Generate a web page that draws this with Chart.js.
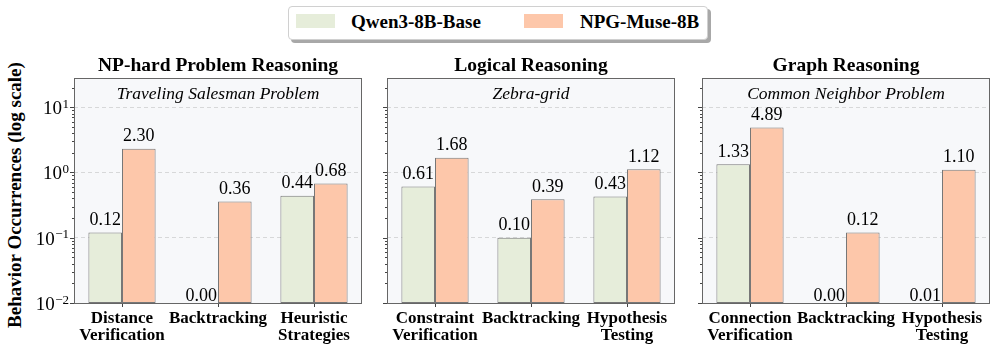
<!DOCTYPE html>
<html>
<head>
<meta charset="utf-8">
<script src="https://cdn.jsdelivr.net/npm/chart.js@4.4.0/dist/chart.umd.min.js"></script>
<style>
  body { margin: 0; width: 996px; height: 350px; background: #fff; position: relative; overflow: hidden;
         font-family: "Liberation Serif", "Times New Roman", serif; }
  canvas { position: absolute; left: 0; top: 0; }
  #legend { position: absolute; left: 288px; top: 6px; width: 418px; height: 32px; border: 1px solid #d0d0d0;
            border-radius: 4px; background: #fff; box-shadow: 3px 3px 0 #a8a8a8; }
  .sw { position: absolute; top: 7px; width: 39px; height: 14px; }
  .lt { position: absolute; top: 4px; font-weight: bold; font-size: 19px; line-height: 22px; color: #000; white-space: nowrap; }
  #ytitle { position: absolute; left: 15px; top: 195px; transform: translate(-50%, -50%) rotate(-90deg);
            font-weight: bold; font-size: 19px; white-space: nowrap; color: #000; }
</style>
</head>
<body>
<div id="legend"></div>
<div id="ytitle">Behavior Occurrences (log scale)</div>
<canvas id="p0" width="996" height="350"></canvas>
<canvas id="p1" width="996" height="350"></canvas>
<canvas id="p2" width="996" height="350"></canvas>
<script>
// series + panel data
const seriesNames = ['Qwen3-8B-Base', 'NPG-Muse-8B'];
const seriesColors = ['#e6edda', '#fdc7aa'];

const panelTitles = ['NP-hard Problem Reasoning', 'Logical Reasoning', 'Graph Reasoning'];
const panelSubtitles = ['Traveling Salesman Problem', 'Zebra-grid', 'Common Neighbor Problem'];

const npCategories = [['Distance', 'Verification'], 'Backtracking', ['Heuristic', 'Strategies']];
const npQwen = [0.12, 0.00, 0.44];
const npMuse = [2.30, 0.36, 0.68];

const logicCategories = [['Constraint', 'Verification'], 'Backtracking', ['Hypothesis', 'Testing']];
const logicQwen = [0.61, 0.10, 0.43];
const logicMuse = [1.68, 0.39, 1.12];

const graphCategories = [['Connection', 'Verification'], 'Backtracking', ['Hypothesis', 'Testing']];
const graphQwen = [1.33, 0.00, 0.01];
const graphMuse = [4.89, 0.12, 1.10];

const yMin = 0.01;
const yMax = 28;
const majorTicks = [0.01, 0.1, 1, 10];
const majorTickExp = ['\u22122', '\u22121', '0', '1'];

// panel boxes (plot area, px)
const panelLefts = [74, 387, 702];
const panelWidth = 288;
const plotTop = 78;
const plotBottom = 303;

const serif = '"Liberation Serif", "Times New Roman", serif';

// minor + major log ticks
const logTicks = [];
for (let e = -2; e <= 1; e++) {
  for (let m = 1; m <= 9; m++) {
    const v = Number((m * Math.pow(10, e)).toPrecision(3));
    if (v <= yMax) logTicks.push(v);
  }
}
const isMajor = v => majorTicks.some(t => Math.abs(t - v) < 1e-9);

// legend
const legend = document.getElementById('legend');
const swLeft = [7, 235];
const txtLeft = [62, 291];
seriesNames.forEach((name, i) => {
  const sw = document.createElement('span');
  sw.className = 'sw';
  sw.style.left = swLeft[i] + 'px';
  sw.style.background = seriesColors[i];
  legend.appendChild(sw);
  const t = document.createElement('span');
  t.className = 'lt';
  t.style.left = txtLeft[i] + 'px';
  t.textContent = name;
  legend.appendChild(t);
});

const panelDecor = {
  id: 'panelDecor',
  beforeDraw(chart) {
    const { ctx, chartArea: a } = chart;
    ctx.save();
    ctx.fillStyle = '#f7f8fa';
    ctx.fillRect(a.left, a.top, a.right - a.left, a.bottom - a.top);
    ctx.restore();
  },
  afterDatasetsDraw(chart, args, opts) {
    const { ctx, chartArea: a } = chart;
    const yScale = chart.scales.y;
    ctx.save();

    // frame
    ctx.strokeStyle = '#666';
    ctx.lineWidth = 1;
    ctx.strokeRect(a.left + 0.5, a.top + 0.5, a.right - a.left - 1, a.bottom - a.top);

    // y tick marks
    ctx.strokeStyle = '#444';
    yScale.ticks.forEach(t => {
      const py = Math.round(yScale.getPixelForValue(t.value)) + 0.5;
      const len = isMajor(t.value) ? 4 : 2;
      ctx.beginPath();
      ctx.moveTo(a.left, py);
      ctx.lineTo(a.left - len, py);
      ctx.stroke();
    });

    // y tick labels (first panel only)
    if (opts.showYLabels) {
      ctx.fillStyle = '#000';
      ctx.textBaseline = 'alphabetic';
      ctx.textAlign = 'right';
      majorTicks.forEach((v, i) => {
        const py = yScale.getPixelForValue(v);
        const right = a.left - 5;
        ctx.font = '13px ' + serif;
        const supW = ctx.measureText(majorTickExp[i]).width;
        ctx.fillText(majorTickExp[i], right, py + 0.5);
        ctx.font = '19px ' + serif;
        ctx.fillText('10', right - supW - 0.5, py + 7);
      });
    }

    // value labels
    ctx.font = '18px ' + serif;
    ctx.fillStyle = '#000';
    ctx.textAlign = 'center';
    ctx.textBaseline = 'alphabetic';
    chart.data.datasets.forEach((ds, di) => {
      const meta = chart.getDatasetMeta(di);
      meta.data.forEach((el, j) => {
        const v = ds.data[j];
        const by = v <= yMin ? a.bottom - 2.5 : el.y - 7.5;
        ctx.fillText(v.toFixed(2), el.x, by);
      });
    });
    ctx.restore();
  },
  afterDraw(chart, args, opts) {
    const { ctx, chartArea: a } = chart;
    const cx = (a.left + a.right) / 2;
    ctx.save();
    ctx.fillStyle = '#000';
    ctx.textAlign = 'center';
    ctx.textBaseline = 'alphabetic';
    ctx.font = 'bold 19.5px ' + serif;
    ctx.fillText(opts.title, cx, 71);
    ctx.font = 'italic 17.5px ' + serif;
    ctx.fillText(opts.subtitle, cx, 99);
    ctx.restore();
  }
};

function makePanel(idx, categories, qwen, muse) {
  const left = panelLefts[idx];
  const ctx = document.getElementById('p' + idx).getContext('2d');
  return new Chart(ctx, {
    type: 'bar',
    data: {
      labels: categories,
      datasets: [
        { label: seriesNames[0], data: qwen, backgroundColor: seriesColors[0] },
        { label: seriesNames[1], data: muse, backgroundColor: seriesColors[1] }
      ]
    },
    options: {
      responsive: false,
      animation: false,
      events: [],
      layout: {
        padding: { left: left, right: 996 - left - panelWidth, top: plotTop, bottom: 0 }
      },
      datasets: {
        bar: {
          categoryPercentage: 0.7,
          barPercentage: 1.0,
          borderColor: '#777',
          borderWidth: 1,
          borderSkipped: false
        }
      },
      plugins: {
        legend: { display: false },
        tooltip: { enabled: false },
        panelDecor: { title: panelTitles[idx], subtitle: panelSubtitles[idx], showYLabels: idx === 0 }
      },
      scales: {
        x: {
          offset: true,
          grid: { display: true, drawOnChartArea: false, drawTicks: true, tickLength: 4, color: '#444', offset: false },
          border: { display: false },
          ticks: {
            color: '#000',
            padding: 3,
            maxRotation: 0,
            autoSkip: false,
            font: { family: serif, size: 17, weight: 'bold', lineHeight: 1.0 }
          },
          afterFit(s) { s.height = 350 - plotBottom; }
        },
        y: {
          type: 'logarithmic',
          min: yMin,
          max: yMax,
          ticks: { display: false },
          grid: {
            drawTicks: false,
            lineWidth: 1,
            color: c => (c.tick && isMajor(c.tick.value)) ? 'rgba(0,0,0,0.13)' : 'rgba(0,0,0,0)'
          },
          border: { display: false, dash: [4, 3] },
          afterBuildTicks(s) { s.ticks = logTicks.map(v => ({ value: v, major: isMajor(v) })); },
          afterFit(s) { s.width = 0; }
        }
      }
    },
    plugins: [panelDecor]
  });
}

makePanel(0, npCategories, npQwen, npMuse);
makePanel(1, logicCategories, logicQwen, logicMuse);
makePanel(2, graphCategories, graphQwen, graphMuse);
</script>
</body>
</html>
